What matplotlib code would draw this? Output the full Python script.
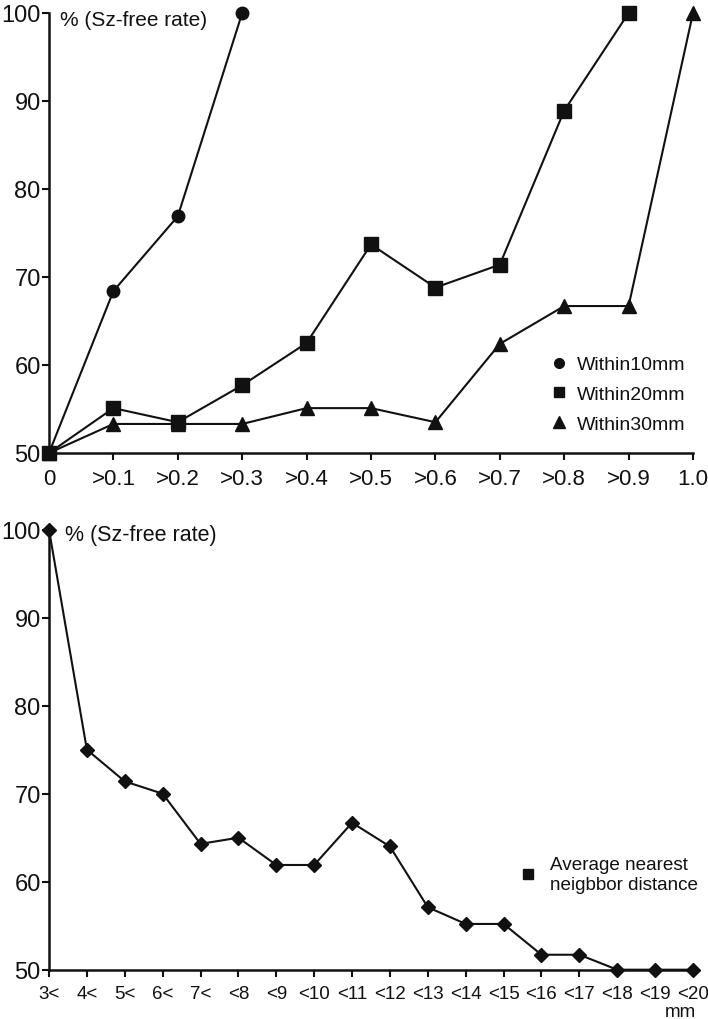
import numpy as np
import matplotlib
matplotlib.use('Agg')
import matplotlib.pyplot as plt
from matplotlib.lines import Line2D

plt.rcParams['font.family'] = ['Liberation Sans', 'DejaVu Sans']

# top panel: Sz-free rate vs threshold
top_labels = ['0', '>0.1', '>0.2', '>0.3', '>0.4', '>0.5', '>0.6', '>0.7', '>0.8', '>0.9', '1.0']
within10 = [50, 68.4, 76.9, 100]
within20 = [50, 55.1, 53.5, 57.7, 62.5, 73.7, 68.8, 71.4, 88.9, 100]
within30 = [50, 53.3, 53.3, 53.3, 55.1, 55.1, 53.5, 62.4, 66.7, 66.7, 100]

# bottom panel: Sz-free rate vs average nearest neighbor distance
bot_labels = ['3<', '4<', '5<', '6<', '7<', '<8', '<9', '<10', '<11', '<12',
              '<13', '<14', '<15', '<16', '<17', '<18', '<19', '<20']
nn_rate = [100, 75, 71.4, 70, 64.3, 65, 61.9, 61.9, 66.7, 64,
           57.1, 55.2, 55.2, 51.7, 51.7, 50, 50, 50]

col = '#111111'
fig = plt.figure(figsize=(7.08, 10.2), dpi=100)
ax1 = fig.add_axes([49/708, 566/1020, 644/708, 440/1020])
ax2 = fig.add_axes([49/708, 49.3/1020, 644/708, 440/1020])

def style(ax, labels, xfs, yfs):
    ax.set_ylim(50, 100)
    ax.set_xlim(0, len(labels) - 1)
    ax.set_yticks([50, 60, 70, 80, 90, 100])
    ax.set_xticks(range(len(labels)))
    ax.set_xticklabels(labels, fontsize=xfs, color=col)
    ax.tick_params(axis='y', labelsize=yfs, colors=col, length=5, width=1.5, pad=1)
    ax.tick_params(axis='x', colors=col, length=5, width=1.5, pad=6)
    for s in ['top', 'right']:
        ax.spines[s].set_visible(False)
    for s in ['left', 'bottom']:
        ax.spines[s].set_linewidth(1.8)
        ax.spines[s].set_color(col)

lw = 1.5
x = np.arange(len(top_labels))
ax1.plot(x[:len(within10)], within10, '-o', color=col, lw=lw, ms=9, clip_on=False, zorder=3)
ax1.plot(x[:len(within20)], within20, '-s', color=col, lw=lw, ms=10.5, clip_on=False, zorder=3)
ax1.plot(x[:len(within30)], within30, '-^', color=col, lw=lw, ms=10, clip_on=False, zorder=3)
style(ax1, top_labels, 16, 17)
ax1.text(0.017, 0.985, '% (Sz-free rate)', transform=ax1.transAxes, fontsize=15,
         color=col, va='center', ha='left')

handles = [Line2D([], [], ls='none', marker=m, color=col, ms=s)
           for m, s in [('o', 7), ('s', 7.5), ('^', 8)]]
ax1.legend(handles, ['Within10mm', 'Within20mm', 'Within30mm'], loc='upper left',
           bbox_to_anchor=(0.765, 0.243), frameon=False, fontsize=14,
           handlelength=0.8, handletextpad=0.5, labelspacing=0.62, borderpad=0,
           labelcolor=col)

xb = np.arange(len(bot_labels))
ax2.plot(xb, nn_rate, '-D', color=col, lw=lw, ms=7.5, clip_on=False, zorder=3)
style(ax2, bot_labels, 13.5, 17)
ax2.text(0.025, 0.99, '% (Sz-free rate)', transform=ax2.transAxes, fontsize=15.5,
         color=col, va='center', ha='left')
fig.text(680/708, 1 - 1013/1020, 'mm', fontsize=13.5, color=col, ha='center', va='center')
h2 = [Line2D([], [], ls='none', marker='s', color=col, ms=7)]
ax2.legend(h2, ['Average nearest\nneigbbor distance'], loc='center left',
           bbox_to_anchor=(0.717, 0.217), frameon=False, fontsize=13.6,
           handlelength=0.8, handletextpad=0.8, borderpad=0, labelcolor=col)

fig.savefig('out.png', dpi=100)
